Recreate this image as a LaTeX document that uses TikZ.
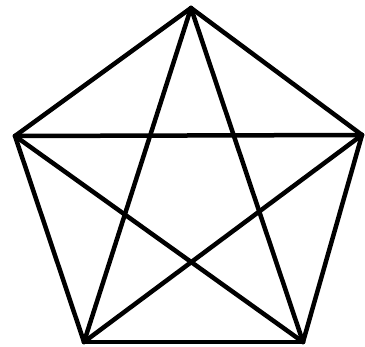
\documentclass[tikz,border=0pt]{standalone}
\begin{document}
\begin{tikzpicture}[x=1pt,y=-1pt,edge/.style={line width=4.5pt,black,line cap=round}]
\useasboundingbox (0,0) rectangle (365,347);
\coordinate (T) at (191,8);
\coordinate (L) at (15,136);
\coordinate (R) at (362,135);
\coordinate (BL) at (84,342);
\coordinate (BR) at (303,342);
\draw[edge] (T) -- (L);
\draw[edge] (L) -- (BL);
\draw[edge] (BL) -- (BR);
\draw[edge] (BR) -- (R);
\draw[edge] (R) -- (T);
\draw[edge] (T) -- (BL);
\draw[edge] (T) -- (BR);
\draw[edge] (L) -- (R);
\draw[edge] (L) -- (BR);
\draw[edge] (R) -- (BL);
\end{tikzpicture}
\end{document}
